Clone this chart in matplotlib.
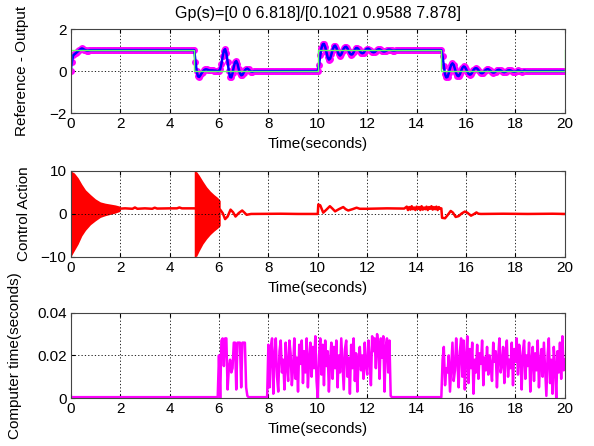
import numpy as np
import matplotlib.pyplot as plt

plt.rcParams['font.family'] = ['Liberation Sans', 'DejaVu Sans']
plt.rcParams['font.size'] = 11

# --- reference / output (sampled every 0.05 s) ---
t_out = np.round(np.arange(0, 20.001, 0.05), 2)
y_out = (
    [0.0, 0.45, 0.75, 0.8, 0.85, 0.9, 0.95, 1.0, 1.05, 1.08,
     1.06, 1.02, 1.0, 0.98, 0.98, 0.99, 1.0, 1.0, 1.0, 1.0]
    + [1.0] * 80
    + [1.0, 0.45, 0.0, -0.25, -0.28, -0.2, -0.1, -0.02, 0.05, 0.08,
       0.08, 0.06, 0.04, 0.03, 0.03, 0.03, 0.02, 0.02, 0.01, 0.0]
    + [0.0, 0.1, 0.35, 0.7, 0.98, 1.05, 0.85, 0.45, 0.0, -0.28,
       -0.3, -0.1, 0.2, 0.42, 0.48, 0.35, 0.1, -0.1, -0.2, -0.18]
    + [-0.08, 0.03, 0.1, 0.12, 0.08, 0.02, -0.02, -0.03, -0.01]
    + [0.0] * 51
    + [0.0, 0.3, 0.75, 1.1, 1.28, 1.3, 1.15, 0.9, 0.65, 0.55,
       0.6, 0.8, 1.02, 1.18, 1.22, 1.12, 0.95, 0.8, 0.74, 0.8]
    + [0.95, 1.08, 1.15, 1.16, 1.08, 0.96, 0.84, 0.79, 0.8, 0.9,
       1.02, 1.1, 1.1, 1.04, 0.96, 0.88, 0.85, 0.87, 0.95, 1.03]
    + [1.07, 1.07, 1.03, 0.97, 0.92, 0.9, 0.91, 0.96, 1.01, 1.04,
       1.04, 1.01, 0.97, 0.94, 0.94, 0.96, 0.99, 1.02, 1.02, 1.01]
    + [0.99, 0.98, 0.98, 0.99] + [1.0] * 36
    + [1.0, 0.7, 0.25, -0.15, -0.3, -0.28, -0.1, 0.12, 0.3, 0.37,
       0.3, 0.1, -0.1, -0.22, -0.24, -0.15, 0.0, 0.15, 0.22, 0.2]
    + [0.1, -0.03, -0.13, -0.17, -0.15, -0.06, 0.05, 0.12, 0.14, 0.12,
       0.05, -0.03, -0.09, -0.1, -0.07, 0.0, 0.06, 0.09, 0.09, 0.05]
    + [0.0, -0.05, -0.07, -0.06, -0.02, 0.03, 0.06, 0.06, 0.03, -0.01,
       -0.04, -0.05, -0.03, 0.0, 0.03, 0.04, 0.03, 0.0, -0.02, -0.03]
    + [-0.02, 0.0, 0.03, 0.02, 0.0, -0.02, -0.01, 0.02, 0.01]
    + [0.0] * 32
)
t_ref = [0, 0, 5, 5, 10, 10, 15, 15, 20, 20]
y_ref = [0, 1, 1, 0, 0, 1, 1, 0, 0, 1]

# --- control action ---
# chattering bands (upper / lower envelope)
band1_t = [0, 0.15, 0.3, 0.45, 0.6, 0.8, 1.0, 1.2, 1.4, 1.6, 1.8, 2.0]
band1_hi = [10, 9.5, 8.4, 6.9, 5.6, 4.5, 3.5, 2.8, 2.5, 2.3, 2.1, 1.8]
band1_lo = [-10, -8.5, -7.0, -5.1, -3.8, -2.5, -1.6, -0.8, -0.4, -0.1, 0.2, 0.6]
band2_t = [5.0, 5.1, 5.2, 5.35, 5.5, 5.65, 5.8, 5.95, 6.05]
band2_hi = [10, 9.8, 9.0, 7.6, 6.3, 5.3, 4.5, 3.8, 3.1]
band2_lo = [-10, -9.8, -8.6, -7.0, -5.8, -4.8, -4.0, -3.3, -2.7]

u_t = [1.9, 2.2, 2.5, 2.6, 2.7, 3.0, 3.3, 3.4, 3.5, 4.0, 4.3, 4.4, 4.5, 5.0,
       6.05, 6.15, 6.25, 6.35, 6.47, 6.57, 6.67, 6.8, 6.94, 7.05, 7.12, 7.3,
       8.5, 9.2, 10.0, 10.02, 10.1, 10.22, 10.35, 10.49, 10.6, 10.7, 10.85,
       11.03, 11.13, 11.23, 11.4, 11.57, 11.7, 12.0, 12.8, 13.5,
       13.6, 13.65, 13.7, 13.75, 13.8, 13.85, 13.9, 13.95, 14.0, 14.05,
       14.1, 14.15, 14.2, 14.25, 14.3, 14.35, 14.4, 14.45, 14.5, 14.55,
       14.6, 14.65, 14.7, 14.75, 14.8, 14.85, 14.9, 14.95,
       15.0, 15.03, 15.15, 15.25, 15.38, 15.47, 15.58, 15.7, 15.82, 15.95,
       16.05, 16.2, 16.3, 16.42, 16.5, 16.6, 17.5, 18.5, 19.5, 20.0]
u_val = [1.2, 1.3, 1.2, 1.5, 1.2, 1.3, 1.2, 1.45, 1.25, 1.3, 1.3, 1.5, 1.3, 1.3,
         1.0, 0.2, -1.2, -0.6, 1.0, 0.4, -0.6, 0.2, 0.8, 0.2, -0.2, 0.0,
         0.05, 0.0, 0.0, 2.2, 2.0, 0.3, 1.0, 1.8, 1.2, 0.6, 1.1,
         1.6, 1.1, 0.8, 1.1, 1.45, 1.2, 1.2, 1.3, 1.25,
         1.7, 0.9, 1.6, 1.0, 1.8, 1.1, 1.5, 0.9, 1.7, 1.2,
         1.6, 0.9, 1.8, 1.0, 1.5, 1.1, 1.7, 0.9, 1.6, 1.2,
         1.8, 1.0, 1.6, 1.1, 1.7, 0.9, 1.6, 1.2,
         1.3, -0.9, -1.0, -0.3, 0.7, 0.3, -0.7, -0.5, 0.1, 0.55,
         0.3, -0.4, -0.1, 0.35, 0.05, 0.0, 0.05, 0.0, 0.05, 0.0]

# --- computer time, ms, every 0.05 s ---
t_cpu = np.round(np.arange(0, 20.001, 0.05), 2)
cpu_ms = (
    [0.4] * 120
    + [20, 0, 27, 28, 15, 28, 28, 4, 14, 18, 12, 14,
       26, 26, 4, 26, 26, 26, 5, 26, 26, 26, 5, 1]
    + [0.4] * 16
    + [25, 5, 24, 28, 2, 20, 28, 10, 3, 22, 27, 12, 18, 4, 26, 15, 8, 27, 21, 6]
    + [14, 28, 9, 19, 3, 25, 16, 27, 7, 22, 12, 28, 5, 18, 26, 10, 24, 14, 29, 8]
    + [0, 20, 28, 11, 25, 6, 27, 15, 22, 3, 18, 26, 9, 24, 14, 27, 5, 20, 12, 28]
    + [16, 4, 23, 27, 10, 19, 2, 25, 14, 28, 8, 21, 3, 18, 24, 13, 20, 9, 26, 15]
    + [11, 27, 18, 6, 29, 22, 28, 14, 30, 25, 9, 28, 19, 29, 3, 24, 28, 12, 27, 1]
    + [0.4] * 41
    + [18, 24, 6, 14, 12, 20, 3, 15, 26, 8, 13, 28, 17, 5, 22, 28, 10, 27, 4, 19]
    + [29, 7, 23, 14, 26, 2, 18, 12, 25, 9, 21, 16, 27, 6, 19, 13, 24, 11, 20, 15]
    + [8, 26, 17, 22, 5, 19, 28, 12, 16, 24, 7, 21, 27, 10, 18, 14, 26, 6, 23, 17]
    + [28, 11, 25, 19, 4, 22, 27, 9, 20, 15, 26, 3, 18, 24, 8, 21, 13, 27, 5, 17]
    + [23, 10, 26, 14, 1, 20, 28, 7, 18, 2, 24, 15, 0, 22, 12, 26, 9, 29, 13, 18]
)
cpu_s = np.array(cpu_ms) / 1000.0


def matlab_style(ax, label_x):
    ax.set_xlim(0, 20)
    ax.set_xticks(range(0, 21, 2))
    ax.tick_params(direction='in', top=True, right=True, length=3, pad=3)
    ax.grid(True, color='black', linestyle=(0, (1.5, 2.5)), linewidth=0.6)
    for s in ax.spines.values():
        s.set_color('#444444')
    ax.set_xlabel('Time(seconds)', labelpad=4)
    ax.yaxis.set_label_coords(label_x, 0.5)


fig = plt.figure(figsize=(5.94, 4.46), dpi=100)
ax1 = fig.add_axes([0.119, 0.7466, 0.832, 0.188])
ax2 = fig.add_axes([0.119, 0.4238, 0.832, 0.193])
ax3 = fig.add_axes([0.119, 0.1076, 0.832, 0.191])

ax1.plot(t_out, y_out, 'o', color='magenta', markersize=5, markeredgewidth=0)
ax1.plot(t_out, y_out, color='blue', linewidth=1.8)
ax1.plot(t_ref, y_ref, color='#66ff66', linewidth=1)
ax1.set_ylim(-2, 2)
ax1.set_yticks([-2, 0, 2])
ax1.set_ylabel('Reference - Output')
ax1.set_title('Gp(s)=[0 0 6.818]/[0.1021 0.9588 7.878]', fontsize=11.5, pad=8)
matlab_style(ax1, -0.084)

ax2.fill_between(band1_t, band1_lo, band1_hi, color='red', linewidth=0)
ax2.fill_between(band2_t, band2_lo, band2_hi, color='red', linewidth=0)
ax2.plot(u_t, u_val, color='red', linewidth=1.8)
ax2.set_ylim(-10, 10)
ax2.set_yticks([-10, 0, 10])
ax2.set_ylabel('Control Action')
matlab_style(ax2, -0.080)

ax3.plot(t_cpu, cpu_s, color='magenta', linewidth=1.8)
ax3.set_ylim(0, 0.04)
ax3.set_yticks([0, 0.02, 0.04])
ax3.set_yticklabels(['0', '0.02', '0.04'])
ax3.set_ylabel('Computer time(seconds)')
matlab_style(ax3, -0.098)

fig.savefig('out.png', dpi=100)
